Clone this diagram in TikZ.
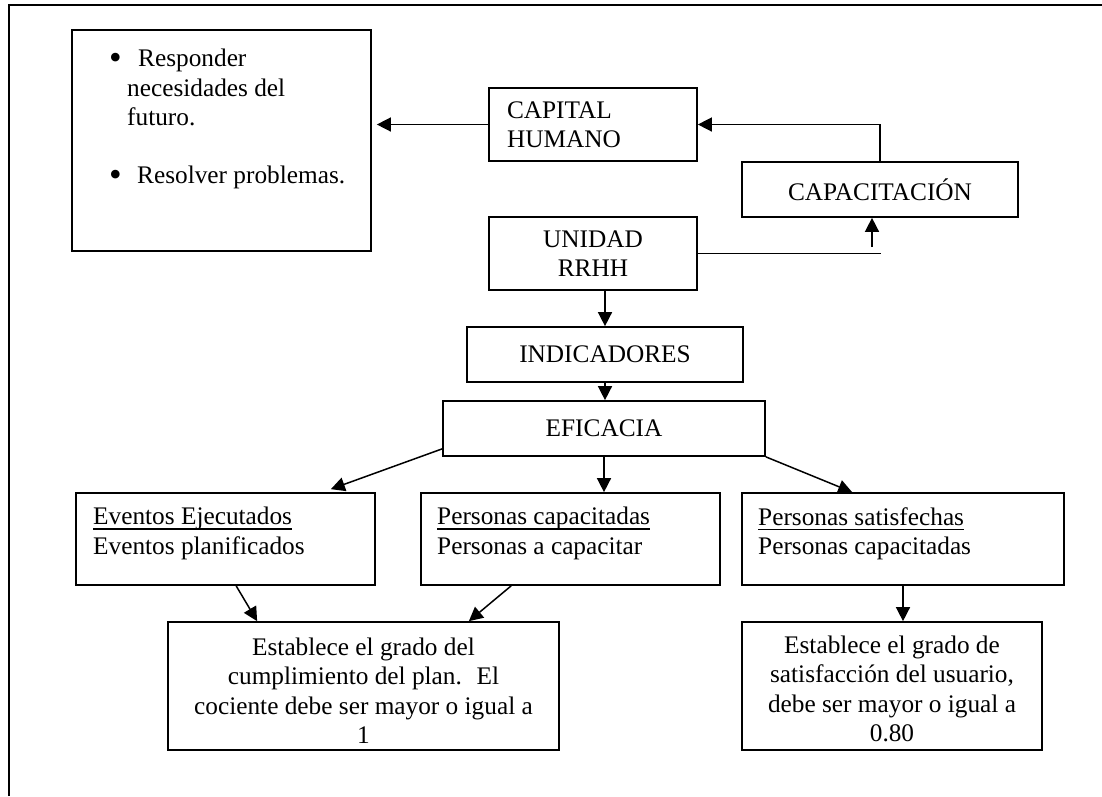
\documentclass[tikz,border=0pt]{standalone}
\usepackage{fontspec}
\setmainfont{Liberation Serif}
\usetikzlibrary{arrows.meta}

\newcommand{\letra}{\fontsize{25.3}{29.3}\selectfont}
\newcommand{\subrayado}[1]{\setbox0\hbox{#1}\rlap{\rule[-5pt]{\wd0}{1.4pt}}\box0}
\newcommand{\vineta}{\raisebox{-2.5pt}{\fontsize{36}{0}\selectfont\textbullet}}
\tikzset{
  caja/.style={draw, line width=1.7pt, inner sep=0pt, font=\letra},
  texto/.style={inner sep=0pt, font=\letra},
  flecha/.style={->, line width=1.5pt},
}

\begin{document}
\begin{tikzpicture}[x=1pt,y=-1pt,>={Triangle[length=14pt,width=14pt]}]
    \useasboundingbox (0,0) rectangle (1102,796);
    \draw[line width=1.7pt] (9,796) -- (9,5) -- (1102,5);
    % cajas
    \node[caja, minimum width=299pt, minimum height=221pt] (futuro) at (221.5,140.5) {};
    \node[texto, anchor=north west, align=left] (futurotxt) at (109,49) {\makebox[29pt][l]{\vineta}Responder\\ \hspace*{18pt}necesidades del\\ \hspace*{18pt}futuro.\\[29.3pt] \makebox[28pt][l]{\vineta}Resolver problemas.};
    \node[caja, minimum width=208pt, minimum height=73pt, text width=172pt, align=left] (capital) at (593,124.5) {CAPITAL\\HUMANO};
    \node[caja, minimum width=276pt, minimum height=55pt] (capac) at (880,189.5) {CAPACITACIÓN};
    \node[caja, minimum width=208pt, minimum height=73pt, align=center] (unidad) at (593,253.5) {UNIDAD\\RRHH};
    \node[caja, minimum width=276pt, minimum height=55pt] (indicadores) at (605,354.5) {INDICADORES};
    \node[caja, minimum width=322pt, minimum height=55pt] (eficacia) at (604,428.5) {EFICACIA};
    \node[caja, minimum width=299pt, minimum height=92pt] (eventos) at (225.5,539) {};
    \node[caja, minimum width=299pt, minimum height=92pt] (personas) at (570.5,539) {};
    \node[caja, minimum width=322pt, minimum height=92pt] (satisf) at (903,539) {};
    \node[caja, minimum width=391pt, minimum height=128pt] (plan) at (363.5,686) {};
    \node[caja, minimum width=300pt, minimum height=128pt] (usuario) at (892,686) {};
    % textos
    \node[texto, anchor=north west, align=left] (eventostxt) at (93,507) {\subrayado{Eventos Ejecutados}\\Eventos planificados};
    \node[texto, anchor=north west, align=left] (personastxt) at (437,507) {\subrayado{Personas capacitadas}\\Personas a capacitar};
    \node[texto, anchor=north west, align=left] (satisftxt) at (758,507) {\subrayado{Personas satisfechas}\\Personas capacitadas};
    \node[texto, anchor=north, align=center] (plantxt) at (363.5,637.7) {Establece el grado del\\cumplimiento del plan.~ El\\cociente debe ser mayor o igual a\\1};
    \node[texto, anchor=north, align=center] (usuariotxt) at (892,635.7) {Establece el grado de\\satisfacción del usuario,\\debe ser mayor o igual a\\0.80};
    % flechas
    \coordinate (fin) at (881,253.5);
    \coordinate (sube) at (872,247);
    \draw[flecha, shorten >=5pt] (capital.west) -- (capital.west -| futuro.east);
    \draw[flecha] (capac.north) |- (capital.east);
    \draw[line width=1.5pt] (unidad.east) -- (fin);
    \draw[flecha] (sube) -- (sube |- capac.south);
    \draw[flecha] (indicadores.north |- unidad.south) -- (indicadores.north);
    \draw[flecha] (indicadores.south) -- (indicadores.south |- eficacia.north);
    \draw[flecha] (eficacia.south) -- (eficacia.south |- personas.north);
    \draw[flecha] ([yshift=8pt]eficacia.south west) -- ([xshift=-45pt,yshift=3pt]eventos.north east);
    \draw[flecha] (eficacia.south east) -- ([xshift=111pt]satisf.north west);
    \draw[flecha] ([xshift=161pt]eventos.south west) -- ([xshift=90pt]plan.north west);
    \draw[flecha] ([xshift=91pt]personas.south west) -- ([xshift=-91pt]plan.north east);
    \draw[flecha] (satisf.south) -- (satisf.south |- usuario.north);
\end{tikzpicture}
\end{document}
